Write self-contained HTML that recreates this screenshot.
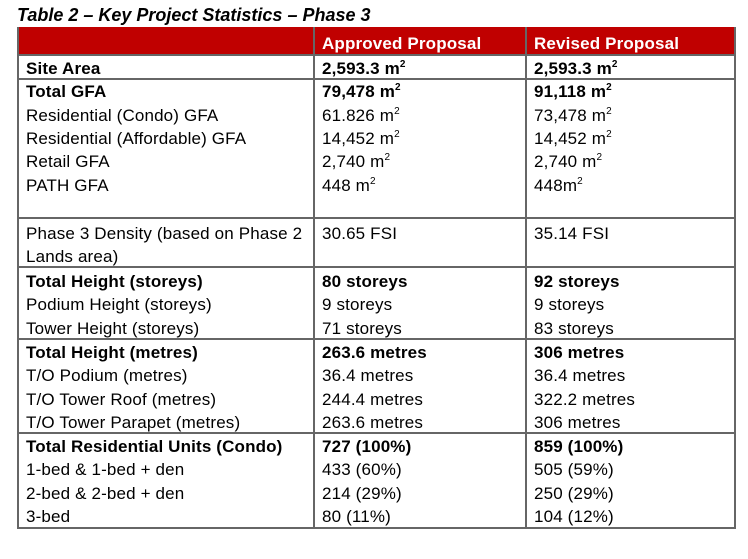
<!DOCTYPE html>
<html><head><meta charset="utf-8"><style>
body{margin:0;width:748px;height:559px;background:#fff;position:relative;overflow:hidden;font-family:"Liberation Sans",Arial,sans-serif;color:#000}
.t{position:absolute;font-size:17px;white-space:nowrap;letter-spacing:0.15px;line-height:20px;margin-top:1px}
.b{font-weight:bold}
.h{position:absolute;height:2px;background:#666;left:17px;width:719px}
.v{position:absolute;width:2px;background:#666;top:27px;height:502px}
sup{font-size:10px;line-height:0;vertical-align:7px}
</style></head><body>
<div class="t b" style="left:17px;top:4px;font-style:italic;font-size:18px;letter-spacing:0">Table 2 – Key Project Statistics – Phase 3</div>
<div style="position:absolute;left:17px;top:27px;width:719px;height:27px;background:#c00000"></div>
<div class="t b" style="left:322px;top:33px;color:#fff">Approved Proposal</div>
<div class="t b" style="left:534px;top:33px;color:#fff">Revised Proposal</div>
<div class="h" style="top:54px"></div>
<div class="h" style="top:78px"></div>
<div class="h" style="top:217px"></div>
<div class="h" style="top:266px"></div>
<div class="h" style="top:338px"></div>
<div class="h" style="top:432px"></div>
<div class="h" style="top:527px"></div>
<div class="v" style="left:17px"></div>
<div class="v" style="left:313px"></div>
<div class="v" style="left:525px"></div>
<div class="v" style="left:734px"></div>

<div class="t b" style="left:26px;top:58px">Site Area</div>
<div class="t b" style="left:322px;top:58px">2,593.3 m<sup>2</sup></div>
<div class="t b" style="left:534px;top:58px">2,593.3 m<sup>2</sup></div>

<div class="t b" style="left:26px;top:81px">Total GFA</div>
<div class="t b" style="left:322px;top:81px">79,478 m<sup>2</sup></div>
<div class="t b" style="left:534px;top:81px">91,118 m<sup>2</sup></div>
<div class="t" style="left:26px;top:105px">Residential (Condo) GFA</div>
<div class="t" style="left:322px;top:105px">61.826 m<sup>2</sup></div>
<div class="t" style="left:534px;top:105px">73,478 m<sup>2</sup></div>
<div class="t" style="left:26px;top:128px">Residential (Affordable) GFA</div>
<div class="t" style="left:322px;top:128px">14,452 m<sup>2</sup></div>
<div class="t" style="left:534px;top:128px">14,452 m<sup>2</sup></div>
<div class="t" style="left:26px;top:151px">Retail GFA</div>
<div class="t" style="left:322px;top:151px">2,740 m<sup>2</sup></div>
<div class="t" style="left:534px;top:151px">2,740 m<sup>2</sup></div>
<div class="t" style="left:26px;top:175px">PATH GFA</div>
<div class="t" style="left:322px;top:175px">448 m<sup>2</sup></div>
<div class="t" style="left:534px;top:175px">448m<sup>2</sup></div>

<div class="t" style="left:26px;top:223px">Phase 3 Density (based on Phase 2</div>
<div class="t" style="left:26px;top:246px">Lands area)</div>
<div class="t" style="left:322px;top:223px">30.65 FSI</div>
<div class="t" style="left:534px;top:223px">35.14 FSI</div>

<div class="t b" style="left:26px;top:271px">Total Height (storeys)</div>
<div class="t b" style="left:322px;top:271px">80 storeys</div>
<div class="t b" style="left:534px;top:271px">92 storeys</div>
<div class="t" style="left:26px;top:294px">Podium Height (storeys)</div>
<div class="t" style="left:322px;top:294px">9 storeys</div>
<div class="t" style="left:534px;top:294px">9 storeys</div>
<div class="t" style="left:26px;top:318px">Tower Height (storeys)</div>
<div class="t" style="left:322px;top:318px">71 storeys</div>
<div class="t" style="left:534px;top:318px">83 storeys</div>

<div class="t b" style="left:26px;top:342px">Total Height (metres)</div>
<div class="t b" style="left:322px;top:342px">263.6 metres</div>
<div class="t b" style="left:534px;top:342px">306 metres</div>
<div class="t" style="left:26px;top:365px">T/O Podium (metres)</div>
<div class="t" style="left:322px;top:365px">36.4 metres</div>
<div class="t" style="left:534px;top:365px">36.4 metres</div>
<div class="t" style="left:26px;top:389px">T/O Tower Roof (metres)</div>
<div class="t" style="left:322px;top:389px">244.4 metres</div>
<div class="t" style="left:534px;top:389px">322.2 metres</div>
<div class="t" style="left:26px;top:412px">T/O Tower Parapet (metres)</div>
<div class="t" style="left:322px;top:412px">263.6 metres</div>
<div class="t" style="left:534px;top:412px">306 metres</div>

<div class="t b" style="left:26px;top:436px">Total Residential Units (Condo)</div>
<div class="t b" style="left:322px;top:436px">727 (100%)</div>
<div class="t b" style="left:534px;top:436px">859 (100%)</div>
<div class="t" style="left:26px;top:459px">1-bed &amp; 1-bed + den</div>
<div class="t" style="left:322px;top:459px">433 (60%)</div>
<div class="t" style="left:534px;top:459px">505 (59%)</div>
<div class="t" style="left:26px;top:483px">2-bed &amp; 2-bed + den</div>
<div class="t" style="left:322px;top:483px">214 (29%)</div>
<div class="t" style="left:534px;top:483px">250 (29%)</div>
<div class="t" style="left:26px;top:506px">3-bed</div>
<div class="t" style="left:322px;top:506px">80 (11%)</div>
<div class="t" style="left:534px;top:506px">104 (12%)</div>
</body></html>
